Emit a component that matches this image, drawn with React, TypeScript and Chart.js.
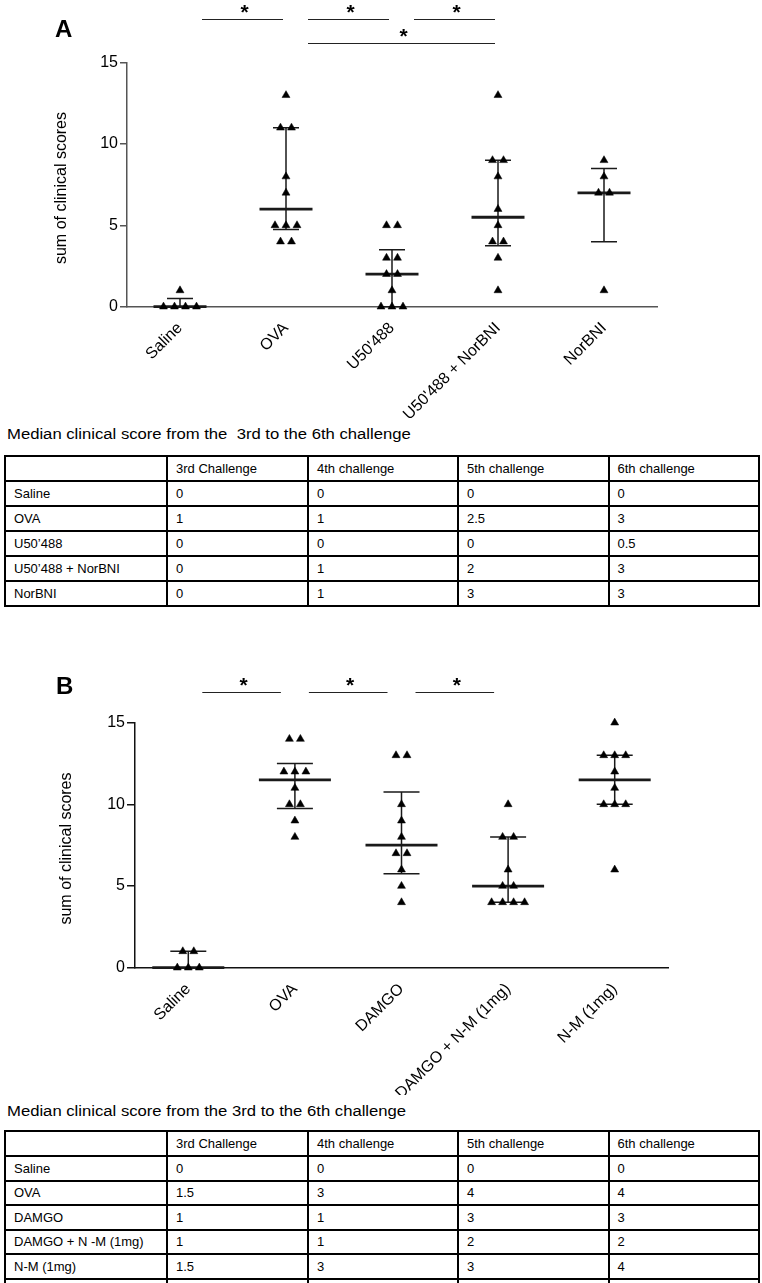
import React, { useEffect, useRef } from 'react';
import { Chart, registerables } from 'chart.js';

Chart.register(...registerables);

// ---------------- Panel A data ----------------
const categoriesA = ['Saline', 'OVA', "U50'488", "U50'488 + NorBNI", 'NorBNI'];
const salineA = [1, 0, 0, 0, 0];
const ovaA = [13, 11, 11, 8, 7, 5, 5, 5, 4, 4];
const u50488A = [5, 5, 3, 3, 2, 2, 1, 0, 0, 0];
const u50488NorBNIA = [13, 9, 9, 8, 6, 5, 4, 4, 3, 1];
const norBNIA = [9, 8, 7, 7, 1];
// significance comparisons: [from group, to group, row]
const signifA = [[0, 1, 0], [1, 2, 0], [2, 3, 0], [1, 3, 1]];

// ---------------- Panel B data ----------------
const categoriesB = ['Saline', 'OVA', 'DAMGO', 'DAMGO + N-M (1mg)', 'N-M (1mg)'];
const salineB = [1, 1, 0, 0, 0];
const ovaB = [14, 14, 12, 12, 12, 11, 10, 10, 9, 8];
const damgoB = [13, 13, 10, 9, 8, 7, 7, 6, 5, 4];
const damgoNMB = [10, 8, 8, 6, 5, 5, 4, 4, 4, 4];
const nmB = [15, 13, 13, 13, 12, 11, 10, 10, 10, 6];
const signifB = [[0, 1, 0], [1, 2, 0], [2, 3, 0]];

const yTickValues = [0, 5, 10, 15];
const yAxisTitle = 'sum of clinical scores';
const starText = '*';

// ---------------- Tables ----------------
const tableTitleA = 'Median clinical score from the  3rd to the 6th challenge';
const tableTitleB = 'Median clinical score from the 3rd to the 6th challenge';
const challengeHeaders = ['3rd Challenge', '4th challenge', '5th challenge', '6th challenge'];
const rowLabelsA = ['Saline', 'OVA', 'U50\u2019488', 'U50\u2019488 + NorBNI', 'NorBNI'];
const challenge3A = ['0', '1', '0', '0', '0'];
const challenge4A = ['0', '1', '0', '1', '1'];
const challenge5A = ['0', '2.5', '0', '2', '3'];
const challenge6A = ['0', '3', '0.5', '3', '3'];
const rowLabelsB = ['Saline', 'OVA', 'DAMGO', 'DAMGO + N -M (1mg)', 'N-M (1mg)'];
const challenge3B = ['0', '1.5', '1', '1', '1.5'];
const challenge4B = ['0', '3', '1', '1', '3'];
const challenge5B = ['0', '4', '3', '2', '3'];
const challenge6B = ['0', '4', '3', '2', '4'];

const FONT = '"Liberation Sans", Arial, Helvetica, sans-serif';

type PanelStyle = {
  top: number;
  height: number;
  areaLeft: number;
  areaRight: number;
  areaTop: number;
  areaBottom: number;
  tickLength: number;
  axisColor: string;
  medianHalf: number;
  capHalf: number;
  jitterPx: number;
  sigStart: number;
  sigEnd: number;
  sigRowY: number[];
  starAbove: number;
  letterX: number;
  letterBaseline: number;
  titleX: number;
  titleY: number;
};

const styleA: PanelStyle = {
  top: 0, height: 420,
  areaLeft: 127, areaRight: 657, areaTop: 62.7, areaBottom: 306.7,
  tickLength: 7, axisColor: '#555',
  medianHalf: 26.5, capHalf: 13, jitterPx: 11,
  sigStart: 22, sigEnd: -3, sigRowY: [18.5, 43], starAbove: 10,
  letterX: 55, letterBaseline: 37, titleX: 62, titleY: 188,
};

const styleB: PanelStyle = {
  top: 640, height: 455,
  areaLeft: 135, areaRight: 668, areaTop: 82.7, areaBottom: 327.7,
  tickLength: 8, axisColor: '#111',
  medianHalf: 36, capHalf: 18, jitterPx: 11,
  sigStart: 14, sigEnd: -14, sigRowY: [51.7], starAbove: 10,
  letterX: 56, letterBaseline: 54.3, titleX: 66.7, titleY: 208.5,
};

// GraphPad-style percentile ((n+1)p rule)
function quantile(sorted: number[], p: number): number {
  const n = sorted.length;
  const pos = (n + 1) * p;
  if (pos <= 1) return sorted[0];
  if (pos >= n) return sorted[n - 1];
  const lo = Math.floor(pos);
  const frac = pos - lo;
  return sorted[lo - 1] + frac * (sorted[lo] - sorted[lo - 1]);
}

function jittered(vals: number[], idx: number, step: number) {
  const counts: Record<string, number> = {};
  vals.forEach((v) => { counts[v] = (counts[v] || 0) + 1; });
  const seen: Record<string, number> = {};
  return vals.map((v) => {
    const k = seen[v] || 0;
    seen[v] = k + 1;
    const m = counts[v];
    return { x: idx + (k - (m - 1) / 2) * step, y: v };
  });
}

function Panel(props: { letter: string; categories: string[]; groups: number[][]; signif: number[][]; st: PanelStyle }) {
  const { letter, categories, groups, signif, st } = props;
  const ref = useRef<HTMLCanvasElement | null>(null);
  useEffect(() => {
    const canvas = ref.current;
    if (!canvas) return;
    const W = 762;
    const catW = (st.areaRight - st.areaLeft) / categories.length;
    const step = st.jitterPx / catW;

    const overlay = {
      id: 'overlay' + letter,
      beforeDatasetsDraw(chart: any) {
        const ctx = chart.ctx;
        const xs = chart.scales.x;
        const ys = chart.scales.y;
        ctx.save();
        ctx.strokeStyle = '#1a1a1a';
        groups.forEach((vals, i) => {
          const s = [...vals].sort((a, b) => a - b);
          const med = quantile(s, 0.5);
          const q1 = quantile(s, 0.25);
          const q3 = quantile(s, 0.75);
          const cx = xs.getPixelForValue(i);
          const y1 = ys.getPixelForValue(q1);
          const y3 = ys.getPixelForValue(q3);
          const ym = ys.getPixelForValue(med);
          ctx.lineWidth = 1.5;
          ctx.beginPath();
          ctx.moveTo(cx, y1); ctx.lineTo(cx, y3);
          ctx.moveTo(cx - st.capHalf, y1); ctx.lineTo(cx + st.capHalf, y1);
          ctx.moveTo(cx - st.capHalf, y3); ctx.lineTo(cx + st.capHalf, y3);
          ctx.stroke();
          ctx.lineWidth = 2.8;
          ctx.beginPath();
          ctx.moveTo(cx - st.medianHalf, ym); ctx.lineTo(cx + st.medianHalf, ym);
          ctx.stroke();
        });
        ctx.restore();
      },
      afterDraw(chart: any) {
        const ctx = chart.ctx;
        const xs = chart.scales.x;
        const area = chart.chartArea;
        ctx.save();
        // panel letter
        ctx.fillStyle = '#000';
        ctx.font = 'bold 24px ' + FONT;
        ctx.textAlign = 'left';
        ctx.textBaseline = 'alphabetic';
        ctx.fillText(letter, st.letterX, st.letterBaseline);
        // y axis title
        ctx.font = '16px ' + FONT;
        ctx.translate(st.titleX, st.titleY);
        ctx.rotate(-Math.PI / 2);
        ctx.textAlign = 'center';
        ctx.textBaseline = 'middle';
        ctx.fillText(yAxisTitle, 0, 0);
        ctx.restore();
        // significance bars
        ctx.save();
        ctx.strokeStyle = '#222';
        ctx.fillStyle = '#000';
        ctx.lineWidth = 1;
        ctx.font = 'bold 21px ' + FONT;
        ctx.textAlign = 'center';
        ctx.textBaseline = 'alphabetic';
        const m = ctx.measureText(starText);
        const asc = m.actualBoundingBoxAscent;
        const desc = m.actualBoundingBoxDescent;
        signif.forEach(([a, b, row]) => {
          const x1 = xs.getPixelForValue(a) + st.sigStart;
          const x2 = xs.getPixelForValue(b) + st.sigEnd;
          const yy = Math.round(st.sigRowY[row]) + 0.5;
          ctx.beginPath();
          ctx.moveTo(x1, yy); ctx.lineTo(x2, yy);
          ctx.stroke();
          const cy = st.sigRowY[row] - st.starAbove;
          ctx.fillText(starText, (x1 + x2) / 2 + 2, cy + (asc - desc) / 2);
        });
        ctx.restore();
        void area;
      },
    };

    const chart = new Chart(canvas, {
      type: 'scatter',
      data: {
        datasets: groups.map((vals, i) => ({
          label: categories[i],
          data: jittered(vals, i, step),
          pointStyle: 'triangle',
          pointRadius: 4.6,
          pointBackgroundColor: '#000',
          pointBorderColor: '#000',
          pointBorderWidth: 0.5,
          showLine: false,
          clip: false,
        })),
      },
      options: {
        responsive: false,
        animation: false,
        events: [],
        layout: { padding: { left: 0, top: st.areaTop, right: W - st.areaRight, bottom: 0 } },
        plugins: { legend: { display: false }, tooltip: { enabled: false } },
        scales: {
          x: {
            type: 'linear',
            min: -0.5,
            max: categories.length - 0.5,
            afterBuildTicks: (s: any) => { s.ticks = categories.map((_, i) => ({ value: i })); },
            afterFit: (s: any) => { s.height = st.height - st.areaBottom; },
            grid: { display: false, drawTicks: false },
            border: { display: true, color: st.axisColor, width: 1.5 },
            ticks: {
              autoSkip: false,
              minRotation: 45,
              maxRotation: 45,
              padding: 12,
              color: '#000',
              font: { family: FONT, size: 16 },
              callback: (v: any) => categories[v] ?? '',
            },
          },
          y: {
            type: 'linear',
            min: 0,
            max: 15,
            afterBuildTicks: (s: any) => { s.ticks = yTickValues.map((v) => ({ value: v })); },
            afterFit: (s: any) => { s.width = st.areaLeft; },
            grid: { display: true, drawOnChartArea: false, drawTicks: true, tickLength: st.tickLength, color: st.axisColor, lineWidth: 1.5 },
            border: { display: true, color: st.axisColor, width: 1.5 },
            ticks: { padding: 2, color: '#000', font: { family: FONT, size: 16 } },
          },
        },
      },
      plugins: [overlay],
    } as any);
    return () => chart.destroy();
  }, []);
  return (
    <canvas
      ref={ref}
      width={762}
      height={st.height}
      style={{ position: 'absolute', left: 0, top: st.top, width: 762, height: st.height }}
    />
  );
}

function DataTable(props: {
  title: string; titleTop: number; top: number; rowLabels: string[]; cols: string[][];
  headerH: number; rowH: number; extraRow: boolean;
}) {
  const { title, titleTop, top, rowLabels, cols, headerH, rowH, extraRow } = props;
  const widths = [162, 141, 150, 150.5, 150.5];
  const cell: React.CSSProperties = {
    border: '2px solid #000',
    padding: '0 0 0 8px',
    textAlign: 'left',
    fontWeight: 'normal',
    verticalAlign: 'middle',
    whiteSpace: 'nowrap',
    overflow: 'hidden',
  };
  return (
    <>
      <div
        style={{
          position: 'absolute', left: 7, top: titleTop, fontFamily: FONT, fontSize: 14, lineHeight: '14px',
          whiteSpace: 'pre', transform: 'scaleX(1.19)', transformOrigin: 'left top', color: '#000',
        }}
      >
        {title}
      </div>
      <table
        style={{
          position: 'absolute', left: 4, top, width: 756, borderCollapse: 'collapse', tableLayout: 'fixed',
          fontFamily: FONT, fontSize: 13, color: '#000',
        }}
      >
        <colgroup>
          {widths.map((w, i) => <col key={i} style={{ width: w }} />)}
        </colgroup>
        <tbody>
          <tr style={{ height: headerH }}>
            <td style={cell}></td>
            {challengeHeaders.map((h) => <td key={h} style={cell}>{h}</td>)}
          </tr>
          {rowLabels.map((lab, r) => (
            <tr key={lab} style={{ height: rowH }}>
              <td style={cell}>{lab}</td>
              {cols.map((c, k) => <td key={k} style={cell}>{c[r]}</td>)}
            </tr>
          ))}
          {extraRow ? (
            <tr style={{ height: rowH }}>
              {widths.map((_, k) => <td key={k} style={cell}></td>)}
            </tr>
          ) : null}
        </tbody>
      </table>
    </>
  );
}

export default function App() {
  return (
    <div style={{ position: 'absolute', left: 0, top: 0, width: 762, height: 1283, overflow: 'hidden', background: '#fff' }}>
      <Panel
        letter="A"
        categories={categoriesA}
        groups={[salineA, ovaA, u50488A, u50488NorBNIA, norBNIA]}
        signif={signifA}
        st={styleA}
      />
      <DataTable
        title={tableTitleA}
        titleTop={427}
        top={455}
        rowLabels={rowLabelsA}
        cols={[challenge3A, challenge4A, challenge5A, challenge6A]}
        headerH={25}
        rowH={25}
        extraRow={false}
      />
      <Panel
        letter="B"
        categories={categoriesB}
        groups={[salineB, ovaB, damgoB, damgoNMB, nmB]}
        signif={signifB}
        st={styleB}
      />
      <DataTable
        title={tableTitleB}
        titleTop={1104}
        top={1130}
        rowLabels={rowLabelsB}
        cols={[challenge3B, challenge4B, challenge5B, challenge6B]}
        headerH={25}
        rowH={24.5}
        extraRow={true}
      />
    </div>
  );
}
